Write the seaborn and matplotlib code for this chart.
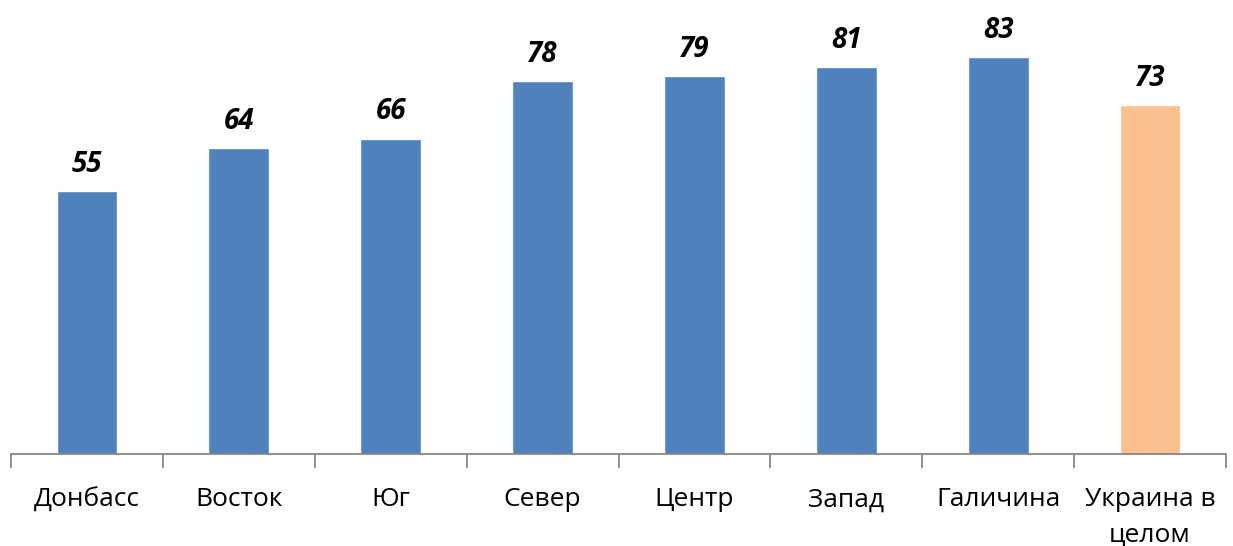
import matplotlib
matplotlib.use("Agg")
import matplotlib.pyplot as plt
import seaborn as sns
import numpy as np
import pandas as pd

regions = ["Донбасс", "Восток", "Юг", "Север", "Центр", "Запад", "Галичина", "Украина в\nцелом"]
values = [55, 64, 66, 78, 79, 81, 83, 73]
colors = ["#4F81BD"] * 7 + ["#FAC090"]

df = pd.DataFrame({"region": regions, "value": values})

sns.set_style("white")
plt.rcParams["font.family"] = ["Open Sans", "DejaVu Sans"]

fig = plt.figure(figsize=(12.33, 5.46), dpi=100)
ax = fig.add_axes([11 / 1233, 92 / 546, 1215 / 1233, 454 / 546])

sns.barplot(data=df, x="region", y="value", hue="region", palette=colors,
            width=0.4, legend=False, ax=ax, saturation=1)

for i, v in enumerate(values):
    ax.text(i, v + 4, str(v), ha="center", va="baseline", fontsize=20,
            fontweight="bold", fontstyle="italic", color="black")

ax.set_ylim(0, 95)
ax.set_xlim(-0.5, len(regions) - 0.5)
ax.set_xlabel("")
ax.set_ylabel("")
ax.set_yticks([])
for s in ["top", "right", "left"]:
    ax.spines[s].set_visible(False)
ax.spines["bottom"].set_color("#868686")
ax.spines["bottom"].set_linewidth(1.3)

ax.set_xticks(np.arange(len(regions)))
ax.set_xticklabels(regions, fontsize=19, linespacing=1.55, va="top", color="black")
ax.tick_params(axis="x", which="major", length=0, pad=24)
ax.set_xticks(np.arange(-0.5, len(regions)), minor=True)
ax.tick_params(axis="x", which="minor", bottom=True, length=10, width=1.3,
               color="#868686", direction="out")

fig.savefig("out.png", dpi=100)
